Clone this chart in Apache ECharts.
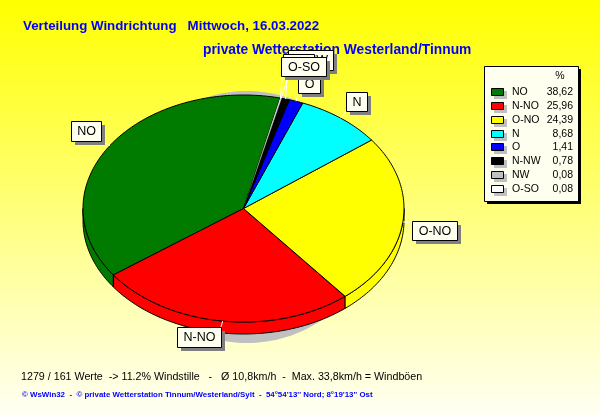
<!DOCTYPE html>
<html><head><meta charset="utf-8">
<style>html,body{margin:0;padding:0;background:#fff}#c{width:600px;height:415px}</style>
<script src="https://cdn.jsdelivr.net/npm/echarts@6/dist/echarts.min.js"></script>
</head><body><div id="c"></div>
<script>
const categories = ['NO','N-NO','O-NO','N','O','N-NW','NW','O-SO'];
const percentages = [38.62,25.96,24.39,8.68,1.41,0.78,0.08,0.08];
const percentLabels = ['38,62','25,96','24,39','8,68','1,41','0,78','0,08','0,08'];
const sliceColors = ['#007b00','#ff0000','#ffff00','#00ffff','#0000ff','#000000','#c0c0c0','#ffffff'];
const titleLine1 = 'Verteilung Windrichtung   Mittwoch, 16.03.2022';
const titleLine2 = 'private Wetterstation Westerland/Tinnum';
const footerLine1 = '1279 / 161 Werte  -> 11.2% Windstille   -   Ø 10,8km/h  -  Max. 33,8km/h = Windböen';
const footerLine2 = '© WsWin32  -  © private Wetterstation Tinnum/Westerland/Sylt  -  54°54\'13\'\' Nord; 8°19\'13\'\' Ost';

/* layout, separate from the data */
const PIE = {cx:243.5, cy:208.5, rx:160.5, ry:113.5, depth:12, start:76.8};
const SHADOW = {cx:247, cy:217, rx:130, ry:126};
const labelBoxes = [[71,121,30,20],[177,327,44,20],[412,221,45,19],[346,92,21,19],[298,74,22,19],[288,50,45,20],[283,54,31,19],[281,57,45,19]];
const LEADER_START = [null,null,null,null,[298,94],[287,80],[287,80],[282,77]];

const total = percentages.reduce((a,b)=>a+b,0);
const rad = d => d*Math.PI/180;
const pt = (a,dy) => [PIE.cx+PIE.rx*Math.cos(rad(a)), PIE.cy-PIE.ry*Math.sin(rad(a))+(dy||0)];
function arc(a0,a1,dy){const n=Math.max(2,Math.ceil(Math.abs(a1-a0)));const r=[];for(let i=0;i<=n;i++)r.push(pt(a0+(a1-a0)*i/n,dy));return r;}
function bounds(i){let s=PIE.start;for(let k=0;k<i;k++)s+=percentages[k]/total*360;return [s,s+percentages[i]/total*360];}

function renderShadow(params){
  if(params.dataIndex!==0) return {type:'group',children:[]};
  const pts=[];for(let a=0;a<360;a+=2)pts.push([SHADOW.cx+SHADOW.rx*Math.cos(rad(a)),SHADOW.cy+SHADOW.ry*Math.sin(rad(a))]);
  return {type:'polygon',shape:{points:pts},style:{fill:'#c0c0c0'},silent:true};
}
function renderSide(params,api){
  const [a0,a1]=bounds(params.dataIndex);
  const kids=[];
  [[180,360],[540,720]].forEach(([lo,hi])=>{
    const s=Math.max(a0,lo),e=Math.min(a1,hi);
    if(e>s){
      const top=arc(s,e,0),bot=arc(s,e,PIE.depth).reverse();
      kids.push({type:'polygon',shape:{points:top.concat(bot)},style:{fill:sliceColors[params.dataIndex],stroke:'#000',lineWidth:1}});
    }
  });
  return {type:'group',children:kids};
}
function renderTop(params,api){
  const [a0,a1]=bounds(params.dataIndex);
  const pts=[[PIE.cx,PIE.cy]].concat(arc(a0,a1,0));
  const thin=percentages[params.dataIndex]<0.5;
  return {type:'polygon',shape:{points:pts},style:thin?{fill:sliceColors[params.dataIndex]}:{fill:sliceColors[params.dataIndex],stroke:'#000',lineWidth:1}};
}
function renderLabel(params,api){
  const i=params.dataIndex,b=labelBoxes[i],[a0,a1]=bounds(i),m=(a0+a1)/2,p=pt(m,0);
  let from=LEADER_START[i];
  if(!from){from=[Math.min(Math.max(p[0],b[0]),b[0]+b[2]),Math.min(Math.max(p[1],b[1]),b[1]+b[3])];}
  return {type:'group',children:[
    {type:'line',shape:{x1:from[0],y1:from[1],x2:p[0],y2:p[1]},style:{stroke:'#fff',lineWidth:1}},
    {type:'rect',shape:{x:b[0]+4,y:b[1]+4,width:b[2],height:b[3]},style:{fill:'#808080'}},
    {type:'rect',shape:{x:b[0]+.5,y:b[1]+.5,width:b[2],height:b[3]},style:{fill:'#fffff0',stroke:'#000',lineWidth:1}},
    {type:'text',style:{x:b[0]+b[2]/2+.5,y:b[1]+b[3]/2+1,text:categories[i],align:'center',verticalAlign:'middle',fill:'#000',font:'12.5px "Liberation Sans"'}}
  ]};
}
const seriesData = categories.map((c,i)=>({name:c,value:percentages[i]}));
const custom=(fn,z)=>({type:'custom',coordinateSystem:'none',renderItem:fn,data:seriesData,z,silent:true,animation:false,clip:false});

const txt=(x,y,text,font,fill,align)=>({type:'text',x,y,silent:true,style:{text,font,fill,align:align||'left',verticalAlign:'middle'}});
const LEG={x:484,y:66,w:94,h:135,rowY:92,rowH:13.85};
const legend=[
 {type:'rect',shape:{x:LEG.x+3,y:LEG.y+3,width:LEG.w,height:LEG.h},style:{fill:'#000'}},
 {type:'rect',shape:{x:LEG.x+.5,y:LEG.y+.5,width:LEG.w,height:LEG.h},style:{fill:'#fffff0',stroke:'#000',lineWidth:1}},
 txt(560,76,'%','10.5px "Liberation Sans"','#000','center')
];
categories.forEach((c,i)=>{
  const y=Math.round(LEG.rowY+i*LEG.rowH);
  legend.push({type:'rect',shape:{x:494,y:y-1,width:13,height:8},style:{fill:'#c0c0c0'}});
  legend.push({type:'rect',shape:{x:491.5,y:y-3.5,width:12,height:7},style:{fill:sliceColors[i],stroke:'#000',lineWidth:1}});
  legend.push(txt(512,y,c,'10.5px "Liberation Sans"','#000'));
  legend.push(txt(573,y,percentLabels[i],'10.5px "Liberation Sans"','#000','right'));
});

const chart=echarts.init(document.getElementById('c'),null,{renderer:'canvas',width:600,height:415});
chart.setOption({
  animation:false,
  backgroundColor:{type:'linear',x:0,y:0,x2:0,y2:1,colorStops:[{offset:0,color:'#ffff00'},{offset:1,color:'#fffff4'}]},
  series:[custom(renderShadow,1),custom(renderSide,2),custom(renderTop,3),custom(renderLabel,4)],
  graphic:[
    {type:'group',z:10,children:legend.concat([
      txt(23,26.5,titleLine1,'bold 13.3px "Liberation Sans"','#0000ff'),
      txt(21,377.5,footerLine1,'10.7px "Liberation Sans"','#000'),
      txt(22,394.5,footerLine2,'bold 7.9px "Liberation Sans"','#0000ff')
    ])},
    {type:'group',z:0,zlevel:-1,children:[txt(203,50.5,titleLine2,'bold 13.8px "Liberation Sans"','#0000ff')]}
  ]
});
</script></body></html>
